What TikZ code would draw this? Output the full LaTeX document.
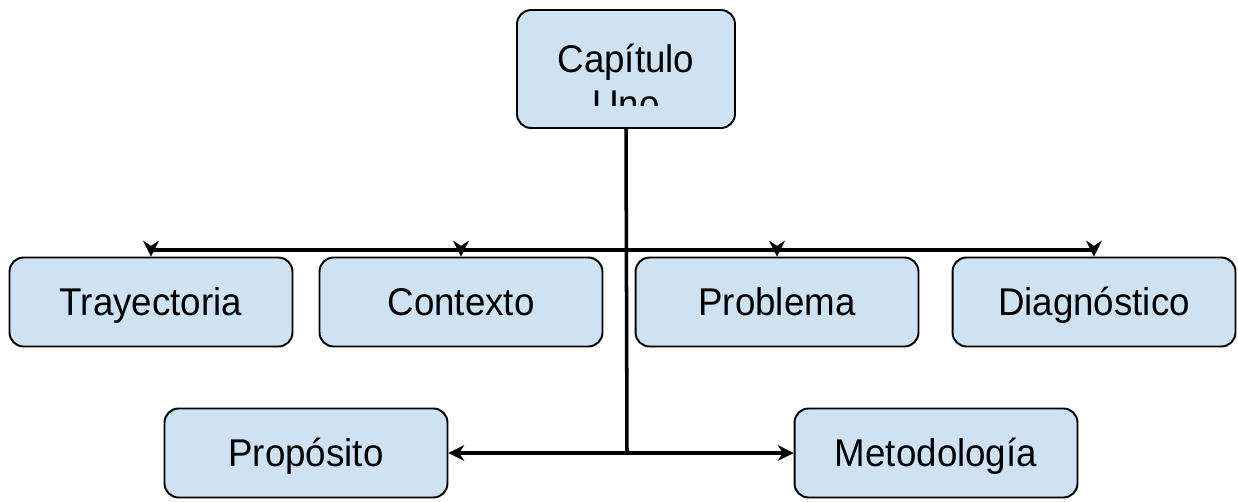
\documentclass[tikz,border=0pt]{standalone}
\usepackage{fontspec}
\setmainfont{Liberation Sans}[FakeStretch=0.95]
\usepackage{tikz}
\usetikzlibrary{positioning, arrows.meta}

\definecolor{boxblue}{HTML}{CFE2F3}

\begin{document}
\begin{tikzpicture}[
    x=0.02cm, y=-0.02cm,
    topic/.style={draw, fill=boxblue, rounded corners=8pt, line width=1.1pt,
        minimum width=5.66cm, minimum height=1.78cm, align=center,
        text height=15.75pt, text depth=0pt,
        font=\fontsize{22}{25.5}\selectfont},
    arrow/.style={-{Stealth[length=9pt, width=9pt]}, line width=2pt},
    trunk/.style={line width=2pt}
]
    \useasboundingbox (0,0) rectangle (1238,501);

    % NODES
    \node[topic, minimum width=4.36cm, minimum height=2.36cm] (chapter) at (626,69) {};
    \begin{scope}
        \clip (517,10) rectangle (735,105);
        \node[anchor=base, inner sep=0pt, align=center,
            font=\fontsize{22}{25.5}\selectfont] (chapter_text) at (626,117) {Capítulo\\Uno};
    \end{scope}

    \node[topic] (trajectory) at (151,302) {Trayectoria};
    \node[topic] (context) at (461,302) {Contexto};
    \node[topic] (problem) at (777,302) {Problema};
    \node[topic] (diagnosis) at (1094,302) {Diagnóstico};

    \node[topic] (purpose) at (306,453) {Propósito};
    \node[topic] (method) at (936,453) {Metodología};

    \coordinate (split) at (627,250);
    \coordinate (join) at (627,453);

    % EDGES
    \draw[trunk] (chapter.south) -- (join);

    \draw[arrow] (split) -| (trajectory.north);
    \draw[arrow] (split) -| (context.north);
    \draw[arrow] (split) -| (problem.north);
    \draw[arrow] (split) -| (diagnosis.north);

    \draw[arrow] (join) -- (purpose.east);
    \draw[arrow] (join) -- (method.west);

\end{tikzpicture}
\end{document}
